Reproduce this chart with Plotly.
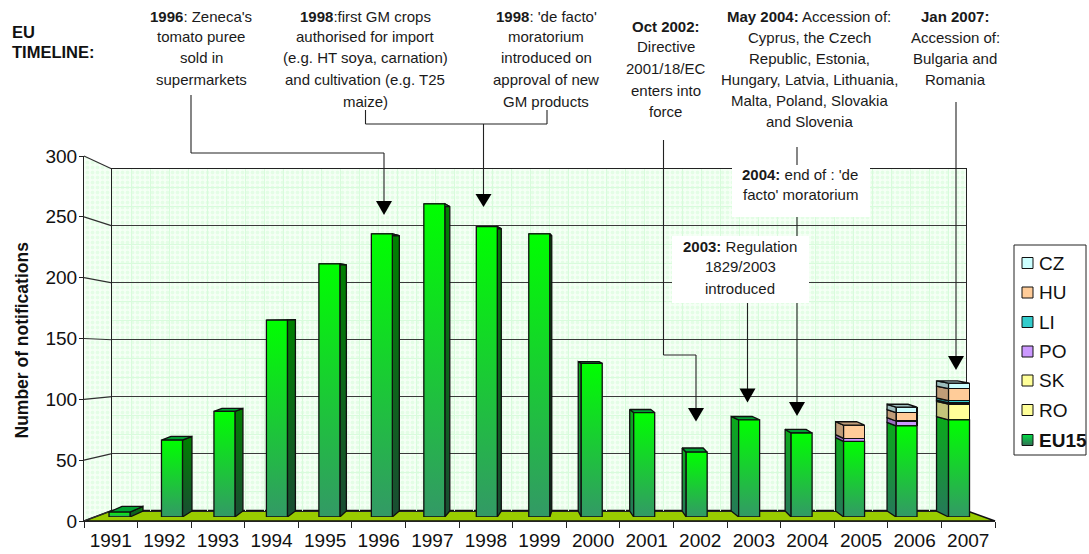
import plotly.graph_objects as go

# Notifications per year
years = list(range(1991, 2008))
eu15 = [4, 64, 88, 164, 211, 236, 261, 242, 236, 128, 87, 54, 81, 70, 63, 76, 81]
ro = [0] * 16 + [13]
sk = [0] * 16 + [1]
po = [0] * 14 + [2.5, 4, 0]
li = [0] * 16 + [2]
hu = [0] * 14 + [11, 7, 10]
cz = [0] * 15 + [4.5, 4.5]

# Style of the stacked member-state segments: name, values, front colour, side colour
stack = [
    ("RO", ro, "#ffff99", "#c4c47a"),
    ("SK", sk, "#ffff99", "#c4c47a"),
    ("PO", po, "#cc99ff", "#9a70c0"),
    ("LI", li, "#33cccc", "#1f8c8c"),
    ("HU", hu, "#ffcc99", "#c09c78"),
    ("CZ", cz, "#ccffff", "#9cbcbc"),
]
legend_order = ["CZ", "HU", "LI", "PO", "SK", "RO", "EU15"]
legend_fill = {"CZ": "#ccffff", "HU": "#ffcc99", "LI": "#33cccc", "PO": "#cc99ff",
               "SK": "#ffff99", "RO": "#ffff99"}

# Visible depth of each bar's side, in page pixels (sign gives the side shown)
side_px = [13, 9.5, 8, 8, 6.5, 7, 5, 4, 2, -3, -4, -4, -7.5, -6, -8, -9, -12]

W, H = 1089, 554
BAR_STEP = 52.47
BAR_W = 0.4
LINE = "#101010"


def back_v(v):
    # Height of a bar's rear edge, in value units
    return 0.972 * v + 5


def dom_x(a, b):
    return [a / W, b / W]


def dom_y(top, bottom):
    return [1 - bottom / H, 1 - top / H]


fig = go.Figure()

# --- chamber walls and floor, in page pixels on a full-page axis pair ---
pattern = dict(shape=".", size=5, solidity=0.45, fgcolor="#d2fbd6", bgcolor="#f6fff6")
fig.add_trace(go.Scatter(x=[112, 966, 966, 112, 112], y=[169, 169, 510.5, 510.5, 169],
                         fill="toself", fillcolor="#e4fde4", fillpattern=pattern, mode="none",
                         hoverinfo="skip", xaxis="x", yaxis="y"))
fig.add_trace(go.Scatter(x=[84, 112, 112, 84, 84], y=[156, 169, 510.5, 521, 156],
                         fill="toself", fillcolor="#e4fde4", fillpattern=pattern, mode="none",
                         hoverinfo="skip", xaxis="x", yaxis="y"))
fig.add_trace(go.Scatter(x=[84, 112, 966, 995, 84], y=[521, 510.5, 510.5, 521, 521],
                         fill="toself", fillcolor="#99cc00", mode="lines",
                         line=dict(color="#111111", width=1.5), hoverinfo="skip",
                         xaxis="x", yaxis="y"))
# left wall gridlines join the front scale to the rear scale
for tick in range(0, 301, 50):
    fig.add_trace(go.Scatter(x=[84, 112], y=[521 - 1.2167 * tick, 510.5 - 1.1383 * tick],
                             mode="lines", line=dict(color="#303030", width=1.2),
                             hoverinfo="skip", xaxis="x", yaxis="y"))

# --- rear wall grid ---
fig.add_trace(go.Scatter(x=[0], y=[0], mode="none", hoverinfo="skip", xaxis="x2", yaxis="y2"))

# --- front axes with the labels ---
fig.add_trace(go.Scatter(x=[str(y) for y in years], y=[None] * len(years), mode="none",
                         hoverinfo="skip", xaxis="x3", yaxis="y3"))

# --- bars ---
fig.add_trace(go.Bar(x=years, y=eu15, name="EU15", width=BAR_W, marker=dict(color="#1fbf50", line=dict(width=0)),
                     xaxis="x4", yaxis="y4"))
for name, vals, front, _ in stack:
    fig.add_trace(go.Bar(x=years, y=[v if v else None for v in vals], name=name, width=BAR_W,
                         marker=dict(color=front, line=dict(color=LINE, width=1.3)),
                         xaxis="x4", yaxis="y4"))


def poly(xs, ys, **kw):
    fig.add_trace(go.Scatter(x=xs + xs[:1], y=ys + ys[:1], mode="lines", fill="toself",
                             line=dict(color=LINE, width=1.3), hoverinfo="skip",
                             xaxis="x4", yaxis="y4", **kw))


def grad(low, high):
    return dict(fillgradient=dict(type="vertical", colorscale=[[0, low], [1, high]]))


for i, yr in enumerate(years):
    dx = side_px[i] / BAR_STEP
    left, right = yr - BAR_W / 2, yr + BAR_W / 2
    edge = right if dx > 0 else left
    v = eu15[i]
    low, high = ("#1a4d33", "#008000") if dx > 0 else ("#26785a", "#0aaa1a")
    poly([edge, edge + dx, edge + dx, edge], [0, back_v(0), back_v(v), v], **grad(low, high))

    total = v
    top_colour = "#00a030"
    for name, vals, front, side in stack:
        seg_v = vals[i]
        if seg_v:
            poly([edge, edge + dx, edge + dx, edge],
                 [total, back_v(total), back_v(total + seg_v), total + seg_v], fillcolor=side)
            total += seg_v
            top_colour = side

    # upper face of the column
    poly([left, right, right + dx, left + dx],
         [total, total, back_v(total), back_v(total)], fillcolor=top_colour)
    # gradient front face of the EU15 block
    poly([left, right, right, left], [0, 0, v, v], **grad("#339966", "#00ff00"))

# --- legend ---
legend_y = [263, 292.5, 322, 351.5, 380.5, 410, 440]
for name, ly in zip(legend_order, legend_y):
    marker = dict(symbol="square", size=11, line=dict(color="#111111", width=1))
    if name == "EU15":
        marker.update(color="#00dd44", gradient=dict(type="vertical", color="#336e55"))
    else:
        marker.update(color=legend_fill[name])
    fig.add_trace(go.Scatter(x=[1027.5], y=[ly], mode="markers", marker=marker,
                             hoverinfo="skip", xaxis="x", yaxis="y"))

shapes = [dict(type="rect", xref="x", yref="y", x0=1014, x1=1086, y0=245, y1=455,
               line=dict(color="#222222", width=1), fillcolor="rgba(0,0,0,0)", layer="below")]


def seg(x0, y0, x1, y1, colour="#222222", width=1.1):
    shapes.append(dict(type="line", xref="x", yref="y", x0=x0, y0=y0, x1=x1, y1=y1,
                       line=dict(color=colour, width=width)))


def arrow(x, top, tip):
    shapes.append(dict(type="path", xref="x", yref="y", fillcolor="#000000", line=dict(width=0),
                       path=f"M {x - 8} {top} L {x + 8} {top} L {x} {tip} Z"))


# callout leaders
seg(191, 95, 191, 153); seg(191, 153, 384, 153); seg(384, 153, 384, 202); arrow(384, 201, 215)
seg(365.5, 110, 365.5, 124); seg(365.5, 124, 547, 124); seg(547, 124, 547, 110)
seg(483.5, 124, 483.5, 195); arrow(483.5, 194, 207)
seg(663.5, 140, 663.5, 355); seg(663.5, 355, 696, 355); seg(696, 355, 696, 409); arrow(696, 408, 421.5)
seg(797, 147, 797, 403); arrow(797, 402, 416)
seg(747.5, 300, 747.5, 389); arrow(747.5, 388.5, 402.5)
seg(956, 102, 956, 357); arrow(956, 356, 370)

# white label boxes inside the chamber
shapes.append(dict(type="rect", xref="x", yref="y", x0=732, x1=870, y0=165, y1=217,
                   fillcolor="white", line=dict(width=0)))
shapes.append(dict(type="rect", xref="x", yref="y", x0=672, x1=809, y0=236, y1=303,
                   fillcolor="white", line=dict(width=0)))

annotations = []


def note(cx, rows):
    for y, text in rows:
        annotations.append(dict(x=cx, y=y, xref="x", yref="y", text=text, showarrow=False,
                                xanchor="center", yanchor="middle",
                                font=dict(family="Liberation Sans", size=15, color="#1a1a1a")))


note(201, [(16, "<b>1996</b>: Zeneca's"), (36.5, "tomato puree"), (57, "sold in"), (79, "supermarkets")])
note(365, [(16, "<b>1998</b>:first GM crops"), (36.5, "authorised for import"),
           (57, "(e.g. HT soya, carnation)"), (79, "and cultivation (e.g. T25"), (101, "maize)")])
note(546, [(16, "<b>1998</b>: 'de facto'"), (36.5, "moratorium"), (57, "introduced on"),
           (79, "approval of new"), (101, "GM products")])
note(665.5, [(26, "<b>Oct 2002:</b>"), (46.5, "Directive"), (68, "2001/18/EC"), (90, "enters into"), (111, "force")])
note(809, [(16, "<b>May 2004:</b> Accession of:"), (37, "Cyprus, the Czech"), (58, "Republic, Estonia,"),
           (79, "Hungary, Latvia, Lithuania,"), (100, "Malta, Poland, Slovakia"), (121, "and Slovenia")])
note(955, [(16, "<b>Jan 2007:</b>"), (37, "Accession of:"), (58, "Bulgaria and"), (79, "Romania")])
note(800, [(174, "<b>2004:</b> end of : 'de"), (194, "facto' moratorium")])
note(740, [(246, "<b>2003:</b> Regulation"), (266, "1829/2003"), (288, "introduced")])

for y, t in [(32, "<b>EU</b>"), (52, "<b>TIMELINE:</b>")]:
    annotations.append(dict(x=10, y=y, xref="x", yref="y", text=t, showarrow=False,
                            xanchor="left", yanchor="middle",
                            font=dict(family="Liberation Sans", size=16.5, color="#111111")))

for name, ly in zip(legend_order, legend_y):
    label = f"<b>{name}</b>" if name == "EU15" else name
    annotations.append(dict(x=1037, y=ly, xref="x", yref="y", text=label, showarrow=False,
                            xanchor="left", yanchor="middle",
                            font=dict(family="Liberation Sans", size=19, color="#111111")))

annotations.append(dict(x=21, y=340.5, xref="x", yref="y", text="<b>Number of notifications</b>",
                        textangle=-90, showarrow=False, xanchor="center", yanchor="middle",
                        font=dict(family="Liberation Sans", size=17.5, color="#111111")))

hidden = dict(visible=False, showgrid=False, zeroline=False, automargin=False)
fig.update_layout(
    width=W, height=H, autosize=False, margin=dict(l=0, r=0, t=0, b=0, pad=0),
    paper_bgcolor="white", plot_bgcolor="rgba(0,0,0,0)", showlegend=False, barmode="stack",
    font=dict(family="Liberation Sans", color="#111111"),
    shapes=shapes, annotations=annotations,
    xaxis=dict(domain=[0, 1], range=[0, W], fixedrange=True, **hidden),
    yaxis=dict(domain=[0, 1], range=[H, 0], fixedrange=True, **hidden),
    xaxis2=dict(domain=dom_x(112, 966), range=[0, 854], anchor="y2", dtick=19, tick0=0, automargin=False,
                showgrid=True, gridcolor="#d8fbdc", gridwidth=1, zeroline=False,
                showticklabels=False, ticks="", showline=True, mirror=True,
                linecolor="#222222", linewidth=1.3),
    yaxis2=dict(domain=dom_y(169, 510.5), range=[0, 300], anchor="x2", dtick=50, tick0=0, automargin=False,
                showgrid=True, gridcolor="#3a3a3a", gridwidth=1.3, zeroline=False,
                minor=dict(dtick=50 / 3, tick0=0, showgrid=True, gridcolor="#d8fbdc", gridwidth=1),
                showticklabels=False, ticks="", showline=True, mirror=True,
                linecolor="#222222", linewidth=1.3),
    xaxis3=dict(domain=dom_x(84, 995), type="category", categoryorder="array", automargin=False,
                categoryarray=[str(y) for y in years], range=[-0.5, 16.5], anchor="y3",
                tickson="boundaries", ticks="outside", ticklen=6, tickcolor="#222222",
                ticklabelstandoff=2,
                showgrid=False, zeroline=False, showline=True, linecolor="#222222", linewidth=1.4,
                tickfont=dict(family="Liberation Sans", size=19, color="#111111")),
    yaxis3=dict(domain=dom_y(156, 521), range=[0, 300], anchor="x3", dtick=50, ticks="outside", automargin=False,
                ticklen=4, tickcolor="#222222", showgrid=False, zeroline=False, showline=True,
                ticklabelstandoff=-2,
                linecolor="#222222", linewidth=1.2,
                tickfont=dict(family="Liberation Sans", size=19, color="#111111")),
    xaxis4=dict(domain=dom_x(119.5 - BAR_STEP / 2, 119.5 + 16.5 * BAR_STEP), range=[1990.5, 2007.5],
                anchor="y4", fixedrange=True, **hidden),
    yaxis4=dict(domain=dom_y(157, 517), range=[0, 300], anchor="x4", fixedrange=True, **hidden),
)

fig.write_html("out.html", config=dict(displayModeBar=False))
